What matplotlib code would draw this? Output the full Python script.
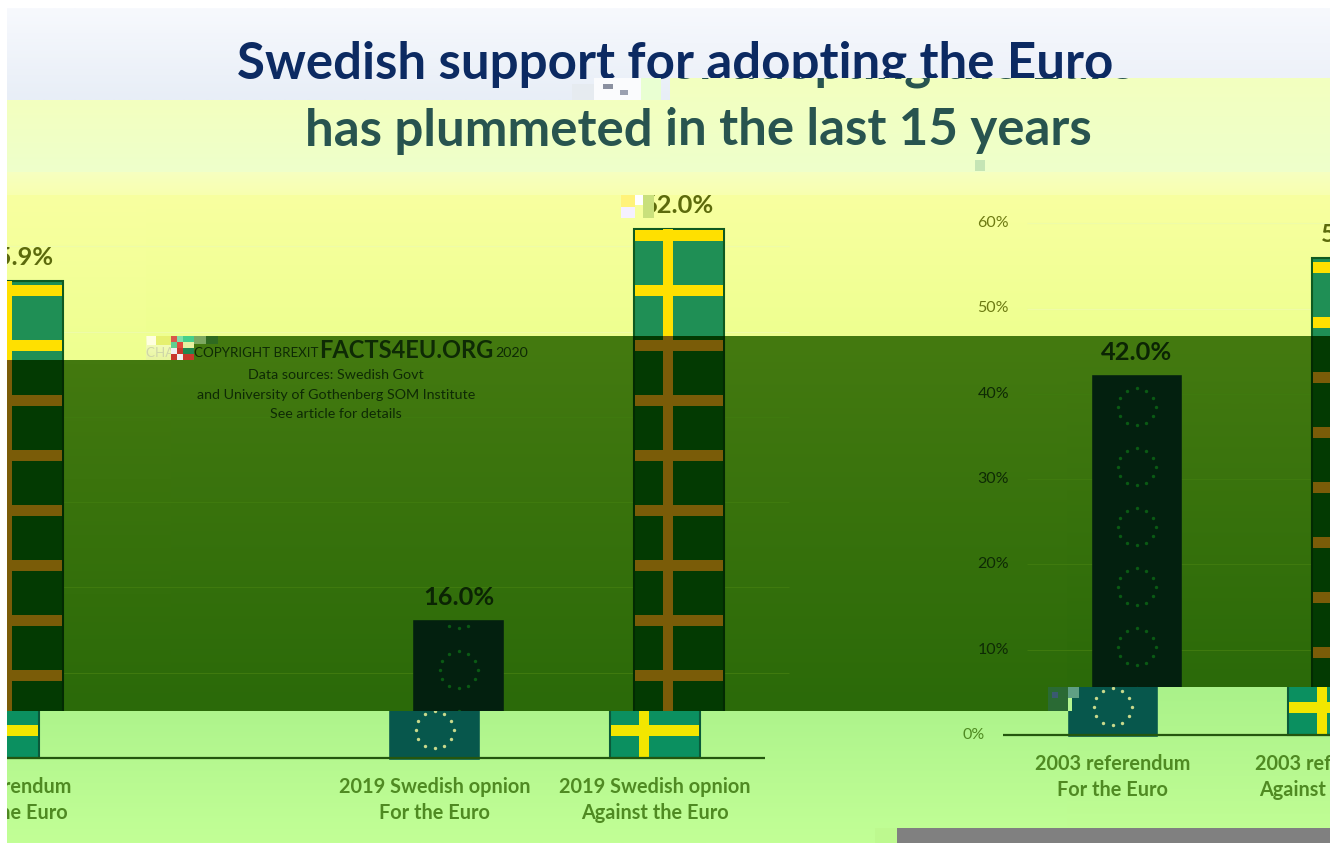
import numpy as np
import matplotlib
matplotlib.use("Agg")
import matplotlib.pyplot as plt
from matplotlib.colors import LinearSegmentedColormap
from matplotlib.patches import Rectangle

plt.rcParams['font.family'] = ['Lato', 'DejaVu Sans']

# ---------- data ----------
categories = [0, 1, 3, 4]
values = [42.0, 55.9, 16.0, 62.0]
flags = ['eu', 'se', 'eu', 'se']
value_labels = ['42.0%', '55.9%', '16.0%', '62.0%']
cat_line1 = ['2003 referendum', '2003 referendum', '2019 Swedish opnion', '2019 Swedish opnion']
cat_line2 = ['For the Euro', 'Against the Euro', 'For the Euro', 'Against the Euro']
y_ticks = [0, 10, 20, 30, 40, 50, 60]
y_tick_labels = ['0%', '10%', '20%', '30%', '40%', '50%', '60%']
title_1 = 'Swedish support for adopting the Euro'
title_2 = 'has plummeted in the last 15 years'
source_lines = ['Data sources: Swedish Govt', 'and University of Gothenberg SOM Institute', 'See article for details']

W, H = 1338, 843
PX_PER_CAT = 220.3
PX_PER_PCT = 8.53
ORIGIN_X = -6 - PX_PER_CAT      # pixel x of category 0 in the unshifted layout
ORIGIN_Y = 758                  # pixel y of 0 %
BAR_W = 90 / PX_PER_CAT
SE_UNIT = 55 / PX_PER_PCT
EU_UNIT = 60 / PX_PER_PCT
WRAP = 1339

def X(px):
    return (px - ORIGIN_X) / PX_PER_CAT

def Y(px):
    return (ORIGIN_Y - px) / PX_PER_PCT

def PXX(c):
    return ORIGIN_X + c * PX_PER_CAT

def PXY(v):
    return ORIGIN_Y - v * PX_PER_PCT

pale = dict(title='#0c2a62', grid='#eeeeee', tick='#777777', lab='#777777', axis='#777777',
            se=('#888888', '#888888', '#888888'), eu=('#888888', '#888888'), src='#777777')
band = dict(title='#28544f', grid='#eefca8', tick='#6d7a12', lab='#5c6a0c', axis='#6d7a12',
            se=('#1f8f55', '#ffe000', '#0f5a20'), eu=('#03200f', '#0a5a14'), src='#6d7a12')
dark = dict(title='#0e2a05', grid='#3f7a0e', tick='#0e2a05', lab='#0b2404', axis='#0e2a05',
            se=('#033a02', '#7a5c08', '#022a02'), eu=('#03200f', '#0a5a14'), src='#0e2a05')
light = dict(title='#4f8a22', grid='#a0e080', tick='#4f8a22', lab='#4f8a22', axis='#24560e',
             se=('#0b9060', '#f2e600', '#0a5a3a'), eu=('#07574c', '#c9d98c'), src='#4f8a22')
washed = dict(band, src='#cfd6a8')

fig = plt.figure(figsize=(W / 100, H / 100), dpi=100, facecolor='white')


def put_text(ax, win, s, ux, uy, ha='center', fontsize=11, fontweight='normal', color='k', zorder=7):
    """Write text at a layout position, only if it can show inside this block."""
    w = 0.58 * fontsize * 100 / 72 * len(s)
    h = 0.75 * fontsize * 100 / 72
    left = {'center': ux - w / 2, 'left': ux, 'right': ux - w}[ha]
    if left > win[1] or left + w < win[0] or uy - h > win[3] or uy + h < win[2]:
        return
    ax.text(X(ux), Y(uy), s, ha=ha, va='center', fontsize=fontsize, fontweight=fontweight,
            color=color, clip_on=True, zorder=zorder)


def draw_chart(ax, p, win):
    # gridlines and axis
    for t in y_ticks[1:]:
        ax.hlines(t, -0.5, 4.5, color=p['grid'], lw=0.8, zorder=1)
    ax.hlines(0, -0.5, 4.5, color=p['axis'], lw=1.6, zorder=5)
    # y tick labels
    for t, s in zip(y_ticks, y_tick_labels):
        put_text(ax, win, s, PXX(-0.5) - 17.5, PXY(t), ha='right', fontsize=11.5, color=p['tick'], zorder=6)
    # bars
    for c, v, f, lab, l1, l2 in zip(categories, values, flags, value_labels, cat_line1, cat_line2):
        if f == 'se':
            green, cross, edge = p['se']
            ax.bar(c, v, BAR_W, color=green, edgecolor=edge, lw=1.5, zorder=2)
            for k in range(int(v // SE_UNIT) + 1):
                mid = (k + 0.5) * SE_UNIT
                b, t = mid - 0.7, min(mid + 0.7, v)
                if t > b:
                    ax.bar(c, t - b, BAR_W * 0.985, bottom=b, color=cross, zorder=3)
            ax.bar(c - 11 / PX_PER_CAT, v, 10 / PX_PER_CAT, color=cross, zorder=3)
        else:
            fill, star = p['eu']
            ax.bar(c, v, BAR_W * 0.96, color=fill, edgecolor=fill, lw=2.6, zorder=2)
            ang = np.arange(12) * np.pi / 6
            for k in range(int(v // EU_UNIT) + 1):
                cy = 3.3 + k * EU_UNIT
                xs = c + 19 / PX_PER_CAT * np.cos(ang)
                ys = cy + 18.5 / PX_PER_PCT * np.sin(ang)
                keep = ys < v
                ax.scatter(xs[keep], ys[keep], s=6, color=star, lw=0, zorder=3)
        put_text(ax, win, lab, PXX(c), PXY(v) - 24, fontsize=18.3, fontweight='bold', color=p['lab'], zorder=6)
        for txt, off in ((l1, 29), (l2, 55)):
            put_text(ax, win, txt, PXX(c), ORIGIN_Y + off, fontsize=14.3, fontweight='bold',
                     color=p['tick'], zorder=6)
    # title
    put_text(ax, win, title_1, 675, 64, fontsize=36.7, fontweight='bold', color=p['title'])
    put_text(ax, win, title_2, 674.5, 131, fontsize=36.7, fontweight='bold', color=p['title'])
    # watermark
    put_text(ax, win, 'CHART COPYRIGHT BREXIT', 122, 353, ha='left', fontsize=9.6, color=p['src'])
    put_text(ax, win, 'FACTS4EU.ORG', 295, 350.5, ha='left', fontsize=17, fontweight='bold', color=p['src'])
    put_text(ax, win, '2020', 471, 353, ha='left', fontsize=10.3, color=p['src'])
    for s, uy in zip(source_lines, (375, 395.5, 414.5)):
        put_text(ax, win, s, 312, uy, fontsize=10.3, color=p['src'])


def tile(x0, y0, x1, y1, top, bottom, p, dx=0, dy=0, wrap=0):
    """One displaced block of the picture: a window at (x0,y0)-(x1,y1) pixels."""
    ax = fig.add_axes([x0 / W, 1 - y1 / H, (x1 - x0) / W, (y1 - y0) / H])
    ax.set_axis_off()
    cmap = LinearSegmentedColormap.from_list('g', [top, bottom])
    ax.imshow(np.linspace(0, 1, 64)[:, None], cmap=cmap, aspect='auto', extent=(0, 1, 0, 1),
              transform=ax.transAxes, zorder=0, interpolation='bilinear')
    shift = dx + wrap
    win = (x0 - shift, x1 - shift, y0 - dy, y1 - dy)
    draw_chart(ax, p, win)
    ax.set_xlim(X(win[0]), X(win[1]))
    ax.set_ylim(Y(win[3]), Y(win[2]))
    return ax


R = dict(dx=24, dy=-23, wrap=WRAP)   # right-hand upper blocks
L = dict(dx=24)                      # left-hand upper blocks

# pale blue header
tile(7, 8, 670, 100, '#f7f9fd', '#e8eef7', pale)
tile(670, 8, 1330, 78, '#f7f9fd', '#edf1f9', pale)
# pale yellow-green bands
tile(7, 100, 670, 172, '#f3ffbf', '#eeffcb', band, **L)
tile(670, 78, 1330, 172, '#f3ffbf', '#eeffcb', band, **L)
tile(7, 172, 875, 195, '#f6ffc0', '#f8ffb0', band, **L)
tile(875, 172, 1330, 195, '#f6ffc0', '#f8ffb0', band, **R)
# yellow
tile(7, 195, 146, 360, '#f8ffa0', '#eeff90', band, **L)
tile(146, 195, 875, 336, '#f8ffa0', '#eeff90', band, **L)
tile(875, 195, 1330, 336, '#f8ffa0', '#eeff90', band, **R)
# dark green
tile(7, 360, 146, 711, '#43790f', '#2b6a09', dark, **L)
tile(171, 336, 875, 711, '#447a10', '#2b6a09', dark, **L)
tile(146, 360, 171, 711, '#43790f', '#2b6a09', dark, **L)
tile(875, 336, 1067, 711, '#447a10', '#2b6a09', dark, **R)
tile(1067, 336, 1330, 687, '#447a10', '#2b6a09', dark, **R)
# washed-out block at the start of the watermark
tile(146, 336, 171, 360, '#f8ffc8', '#e8f5a0', washed, **L)
# light green
tile(7, 711, 875, 843, '#aef48c', '#c2ff96', light)
tile(875, 711, 1067, 843, '#aef48c', '#c2ff96', light, dy=-23, wrap=WRAP)
tile(1067, 687, 1330, 828, '#aaf28a', '#c0fd94', light, dy=-23, wrap=WRAP)

# damaged blocks of the picture
glitches = [
    (897, 828, 433, 15, '#808080'), (875, 828, 22, 15, '#bdf98f'),
    (572, 84, 22, 16, '#e6ebf0'), (594, 78, 47, 22, '#fafbfd'), (641, 78, 20, 22, '#e9ffd2'),
    (603, 84, 10, 5, '#8a90a0'), (620, 90, 8, 5, '#9aa0b0'),
    (621, 195, 14, 12, '#fff37a'), (635, 195, 8, 10, '#ffffff'), (643, 195, 11, 23, '#c9e07c'),
    (621, 207, 14, 11, '#f5f0ff'),
    (147, 336, 9, 9, '#ffffe0'), (156, 336, 15, 9, '#e6f070'),
    (171, 336, 6, 6, '#d8584a'), (177, 336, 6, 6, '#7fe0a8'), (183, 336, 11, 6, '#46d08a'),
    (171, 342, 6, 6, '#5fd090'), (177, 342, 6, 6, '#e04a3c'), (183, 342, 11, 6, '#e8f0a0'),
    (171, 348, 6, 6, '#f0f0f0'), (177, 348, 6, 6, '#c8382c'), (183, 348, 11, 6, '#1f8a50'),
    (171, 354, 6, 6, '#c8382c'), (177, 354, 6, 6, '#f0f0f0'), (183, 354, 11, 6, '#c8382c'),
    (194, 336, 12, 8, '#7da860'), (206, 336, 12, 8, '#2f6a20'),
    (975, 160, 10, 11, '#c5e5b5'),
    (1048, 687, 20, 24, '#2a6a34'), (1068, 687, 11, 11, '#5f9f84'), (1052, 692, 6, 6, '#3a5a70'),
    (1068, 698, 4, 13, '#b4f590'),
]
for gx, gy, gw, gh, gc in glitches:
    fig.add_artist(Rectangle((gx / W, 1 - (gy + gh) / H), gw / W, gh / H, transform=fig.transFigure,
                             facecolor=gc, edgecolor='none', zorder=20))

fig.savefig('out.png', dpi=100, facecolor='white')
